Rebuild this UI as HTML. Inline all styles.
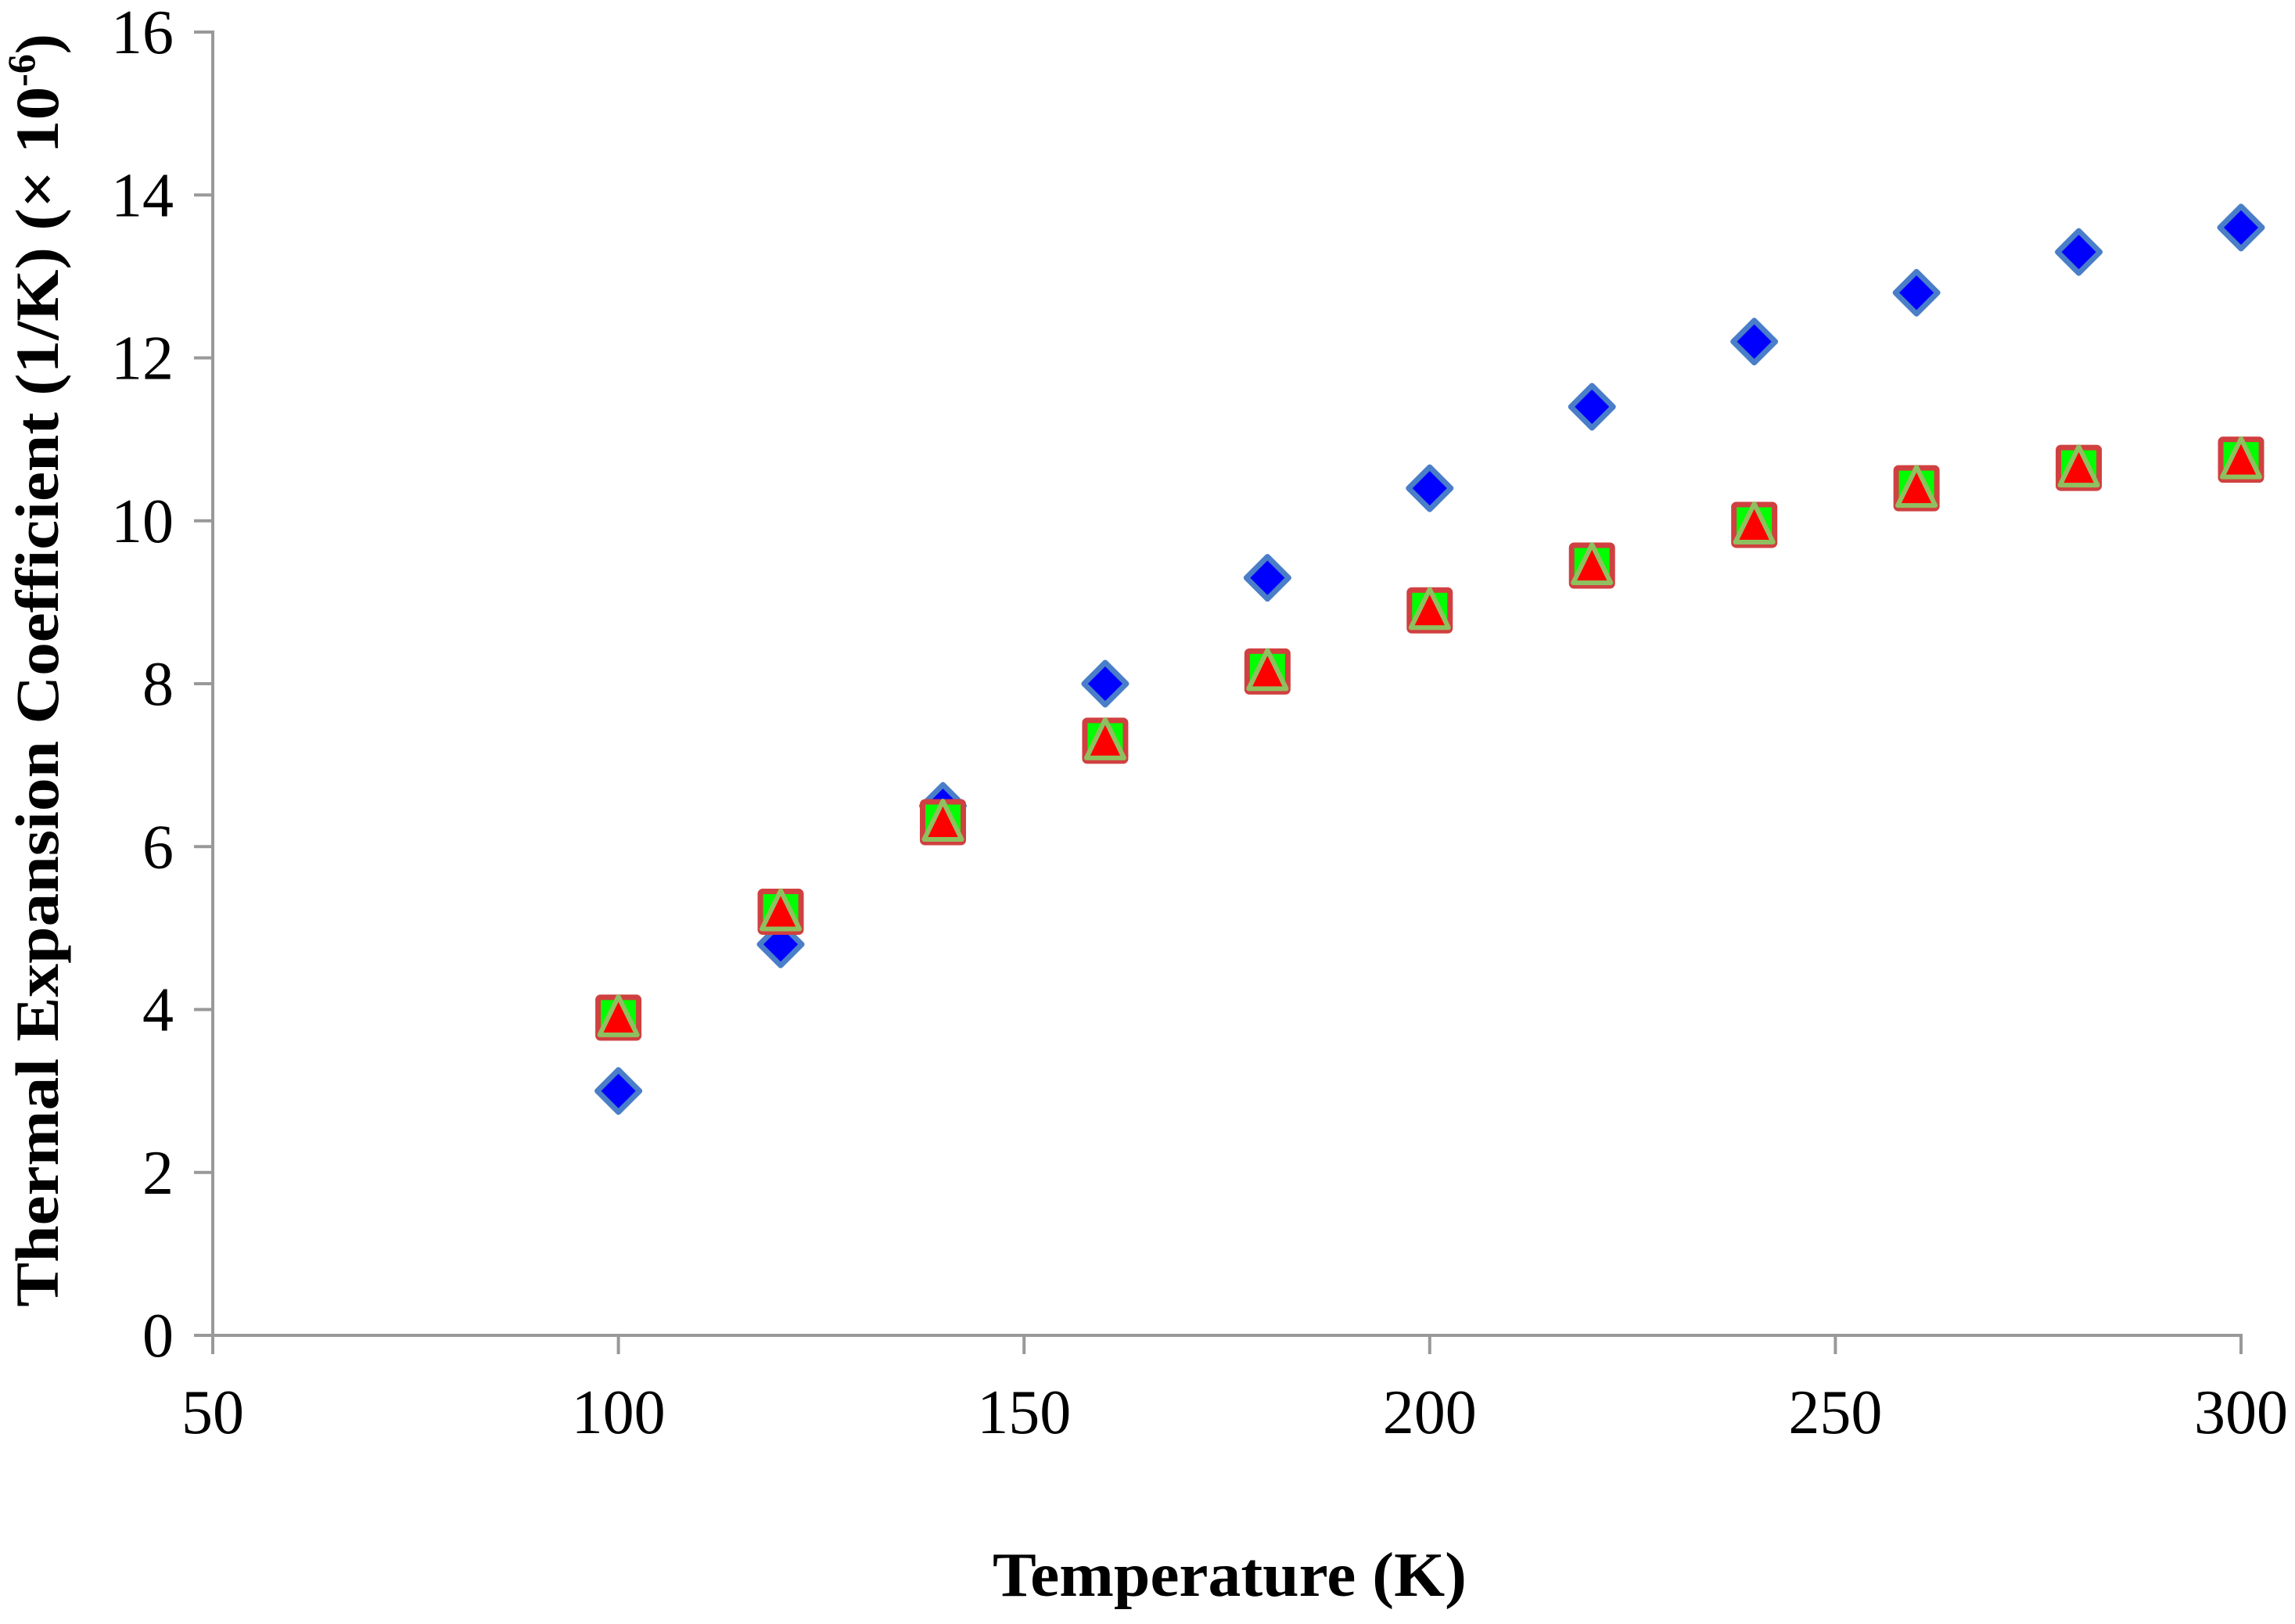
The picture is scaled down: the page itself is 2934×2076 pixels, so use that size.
<!DOCTYPE html>
<html><head><meta charset="utf-8"><style>
html,body{margin:0;padding:0;background:#fff;}
svg{display:block;font-family:"Liberation Serif",serif;}
</style></head><body>
<svg id="chart" width="2934" height="2076" viewBox="0 0 2934 2076">
<g id="axes"></g><g id="marks"></g>
<text x="1572" y="2040" text-anchor="middle" font-size="80" font-weight="bold" textLength="606" lengthAdjust="spacingAndGlyphs">Temperature (K)</text>
<text transform="translate(74,857) rotate(-90)" text-anchor="middle" font-size="78" font-weight="bold"><tspan textLength="1560" lengthAdjust="spacingAndGlyphs">Thermal  Expansion Coefficient (1/K) (× 10</tspan><tspan dy="-30" font-size="50">-6</tspan><tspan dy="30">)</tspan></text>
</svg>
<script>
const temps=[100,120,140,160,180,200,220,240,260,280,300];
const seriesA=[3.0,4.8,6.5,8.0,9.3,10.4,11.4,12.2,12.8,13.3,13.6];
const seriesB=[3.9,5.2,6.3,7.3,8.15,8.9,9.45,9.95,10.4,10.65,10.75];
const seriesC=[3.9,5.2,6.3,7.3,8.15,8.9,9.45,9.95,10.4,10.65,10.75];
const xTicks=[50,100,150,200,250,300];
const yTicks=[0,2,4,6,8,10,12,14,16];
const NS="http://www.w3.org/2000/svg";
const X0=272,X1=2865,Y0=1707,Y1=41;
function sx(v){return X0+(v-50)/250*(X1-X0);}
function sy(v){return Y0-v/16*(Y0-Y1);}
function mk(tag,attrs,parent){const e=document.createElementNS(NS,tag);for(const k in attrs)e.setAttribute(k,attrs[k]);parent.appendChild(e);return e;}
const ax=document.getElementById('axes'),mg=document.getElementById('marks');
let l=mk('line',{x1:X0,y1:Y0,x2:X1+2,y2:Y0,stroke:'#999','stroke-width':4},ax);


l=mk('line',{x1:X0,y1:Y1-2,x2:X0,y2:Y0,stroke:'#999','stroke-width':4},ax);


yTicks.forEach(v=>{
 const t=mk('line',{x1:X0-24,y1:sy(v),x2:X0,y2:sy(v),stroke:'#999','stroke-width':4},ax);
 
 
 const tx=mk('text',{x:X0-50,y:sy(v)+27,'text-anchor':'end','font-size':80},ax);tx.textContent=v;
 
 
});
xTicks.forEach(v=>{
 const t=mk('line',{x1:sx(v),y1:Y0,x2:sx(v),y2:Y0+24,stroke:'#999','stroke-width':4},ax);
 
 
 const tx=mk('text',{x:sx(v),y:Y0+125,'text-anchor':'middle','font-size':80},ax);tx.textContent=v;
 
 
});
temps.forEach((t,i)=>{
 const x=sx(t);
 let y=sy(seriesA[i]);
 const d=mk('polygon',{points:`${x},${y-27} ${x+27},${y} ${x},${y+27} ${x-27},${y}`,fill:'#0000ff',stroke:'#4a7ec8','stroke-width':7,'stroke-linejoin':'round'},mg);
 
 
 y=sy(seriesB[i]);
 const s=mk('rect',{x:x-26,y:y-26,width:52,height:52,fill:'#00ff00',stroke:'#d04040','stroke-width':7,rx:3},mg);
 
 
 y=sy(seriesC[i]);
 const tr=mk('polygon',{points:`${x},${y-27} ${x+24},${y+22} ${x-24},${y+22}`,fill:'#ff0000',stroke:'#8fc060','stroke-width':6,'stroke-linejoin':'round'},mg);
 
 
});
</script>
</body></html>
